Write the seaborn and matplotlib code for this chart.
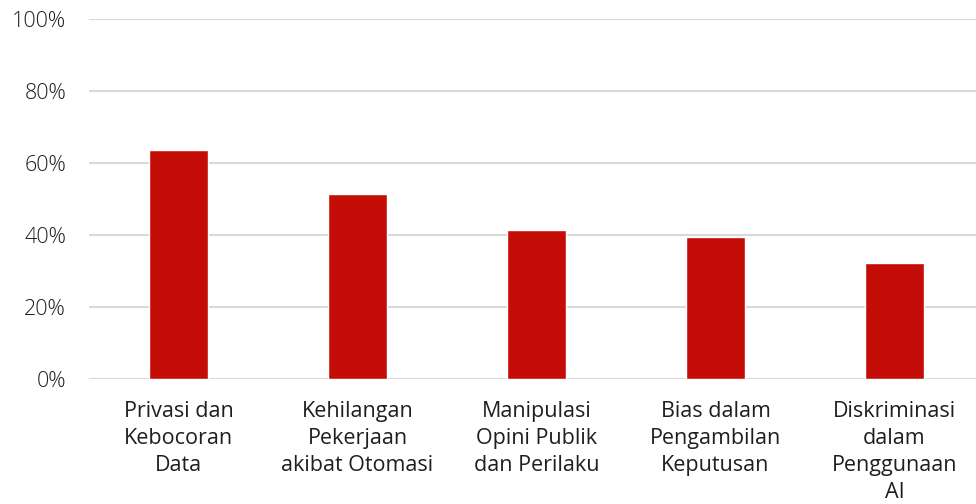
import pandas as pd
import seaborn as sns
from matplotlib import pyplot as plt
from matplotlib.ticker import PercentFormatter

categories = [
    "Privasi dan\nKebocoran\nData",
    "Kehilangan\nPekerjaan\nakibat Otomasi",
    "Manipulasi\nOpini Publik\ndan Perilaku",
    "Bias dalam\nPengambilan\nKeputusan",
    "Diskriminasi\ndalam\nPenggunaan\nAI",
]
percentages = [63.4, 51.3, 41.3, 39.3, 32.2]
y_ticks = [0, 20, 40, 60, 80, 100]

bar_color = "#c50d08"
grid_color = "#d9d9d9"
text_color = "#1f1f1f"

sns.set_theme(style="white")
plt.rcParams["font.family"] = ["Open Sans", "DejaVu Sans"]

df = pd.DataFrame({"kategori": categories, "persen": percentages})

fig = plt.figure(figsize=(9.76, 5.04), dpi=100)
# plot area: 0% line at y~378.7px, 100% line at y~18.7px, first gridline starts at x~89px
ax = fig.add_axes([89 / 976, 125.3 / 504, 895 / 976, 360 / 504])

sns.barplot(
    data=df,
    x="kategori",
    y="persen",
    color=bar_color,
    width=0.325,
    saturation=1,
    ax=ax,
    zorder=3,
)

ax.set_xlim(-0.5, len(categories) - 0.5)
ax.set_ylim(0, 100)
ax.set_yticks(y_ticks)
ax.yaxis.set_major_formatter(PercentFormatter(decimals=0))
ax.yaxis.grid(True, color=grid_color, linewidth=1.5, zorder=0)
ax.set_axisbelow(True)
ax.set_xlabel("")
ax.set_ylabel("")
sns.despine(ax=ax, left=True, bottom=True, top=True, right=True)

ax.tick_params(axis="y", length=0, pad=16.5, labelsize=15.5, labelcolor=text_color)
ax.tick_params(axis="x", length=0, pad=16, labelsize=15.5, labelcolor=text_color)
for lab in ax.get_xticklabels():
    lab.set_linespacing(1.37)
    lab.set_ha("center")
    lab.set_va("top")
for lab in ax.get_yticklabels():
    lab.set_fontweight("light")

fig.savefig("out.png", dpi=100)
